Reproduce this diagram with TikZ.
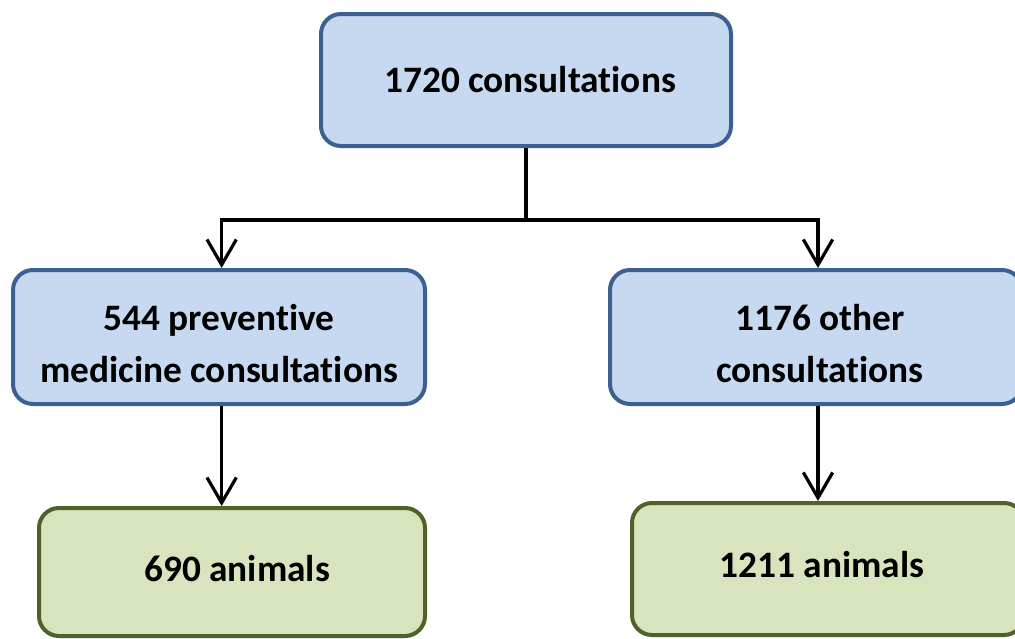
\documentclass[tikz,border=0pt]{standalone}
\usepackage{fontspec}
\setmainfont{Carlito}[Ligatures=NoCommon]
\usetikzlibrary{arrows.meta}
\definecolor{blueFill}{HTML}{C6D9F1}
\definecolor{blueEdge}{HTML}{3C6090}
\definecolor{greenFill}{HTML}{D7E4BD}
\definecolor{greenEdge}{HTML}{4F6228}
\tikzset{
  box/.style={draw, line width=3pt, rounded corners=15pt, inner sep=0pt},
  bluebox/.style={box, fill=blueFill, draw=blueEdge},
  greenbox/.style={box, fill=greenFill, draw=greenEdge},
  caption/.style={align=center, inner sep=0pt,
    font=\fontsize{28}{39}\selectfont\bfseries},
  link/.style={line width=2.4pt, -{Straight Barb[length=19pt,width=22pt,line width=2.4pt]}},
  plain/.style={line width=2.4pt}
}
\begin{document}
\begin{tikzpicture}[x=0.75pt,y=-0.75pt]
  \clip (0,0) rectangle (1015,639);
  \fill[white] (0,0) rectangle (1015,639);
  % boxes
  \node[bluebox, minimum width=307.5pt, minimum height=99pt] (top) at (526,80) {};
  \node[bluebox, minimum width=309pt, minimum height=100.5pt] (prev) at (219,337) {};
  \node[bluebox, minimum width=309pt, minimum height=100.5pt] (other) at (816,337) {};
  \node[greenbox, minimum width=289.5pt, minimum height=96pt] (anim1) at (232,572) {};
  \node[greenbox, minimum width=294pt, minimum height=99pt] (anim2) at (828,569) {};
  % captions
  \node[caption] (toptext) at (530,80) {1720 consultations};
  \node[caption] (prevtext) at (219,344) {544 preventive\\medicine consultations};
  \node[caption] (othertext) at (820,344) {1176 other\\consultations};
  \node[caption] (anim1text) at (237,569) {690 animals};
  \node[caption] (anim2text) at (822,565) {1211 animals};
  % connectors
  \coordinate (split) at (top.south |- 0,220);
  \draw[plain] (top.south) -- (split);
  \draw[link] (split) -| ([xshift=2pt]prev.north);
  \draw[link] (split) -| ([xshift=1.5pt]other.north);
  \draw[link] ([xshift=2pt]prev.south) -- ([xshift=2pt]prev.south |- anim1.north);
  \draw[link] ([xshift=1.5pt]other.south) -- ([xshift=1.5pt]other.south |- anim2.north);
\end{tikzpicture}
\end{document}
